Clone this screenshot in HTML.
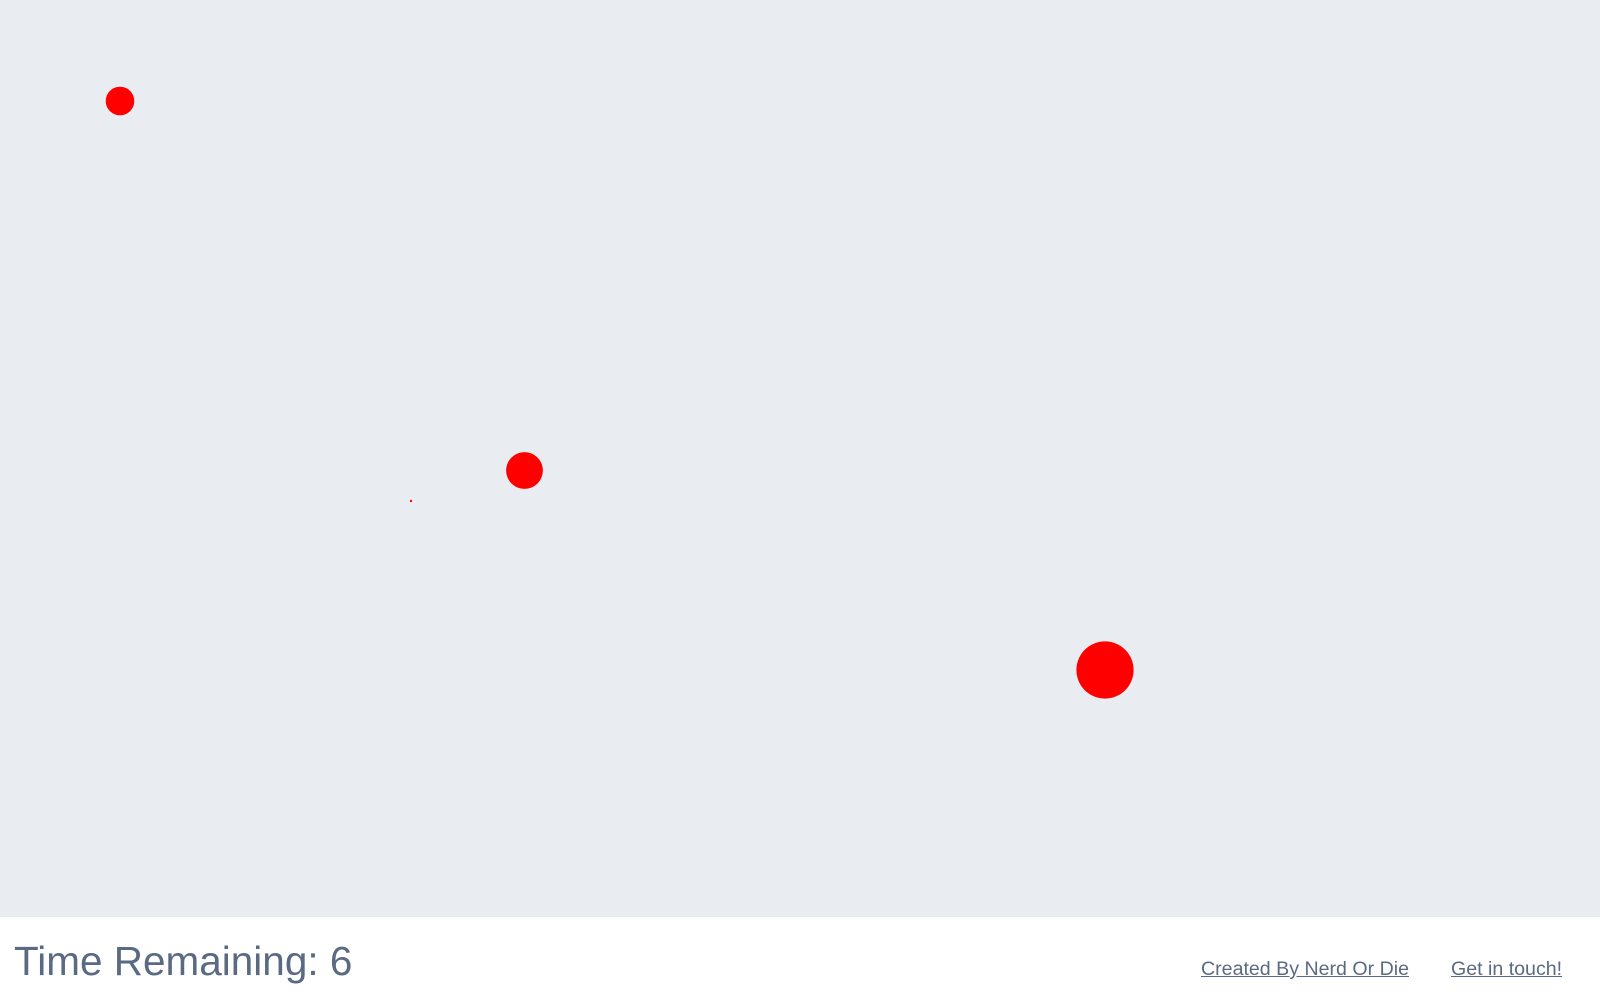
<!DOCTYPE html>
<html><head><meta charset="utf-8"><style>
body{margin:0;width:1600px;height:994px;background:#fff;overflow:hidden;font-family:"Liberation Sans",sans-serif;}
#field{position:absolute;left:0;top:0;width:1600px;height:917px;background:#e9edf2;}
#timer{position:absolute;left:14px;top:941px;font-size:40.5px;color:#5b6a83;line-height:1;white-space:nowrap;}
.lnk{position:absolute;top:960px;font-size:19.6px;color:#5b6a83;text-decoration:underline;line-height:1;white-space:nowrap;}
</style></head><body>
<svg id="field" width="1600" height="917"></svg>
<div id="timer">Time Remaining: 6</div>
<a class="lnk" style="left:1201px">Created By Nerd Or Die</a>
<a class="lnk" style="left:1451px">Get in touch!</a>
<script>
const xs=[120,524.5,1105,411];
const ys=[101,470.5,670,501];
const rs=[14.3,18.4,28.6,1.2];
const svg=document.getElementById('field');
for(let i=0;i<xs.length;i++){
 const c=document.createElementNS('http://www.w3.org/2000/svg','circle');
 c.setAttribute('cx',xs[i]);c.setAttribute('cy',ys[i]);c.setAttribute('r',rs[i]);
 c.setAttribute('fill','#ff0000');
 
 
 svg.appendChild(c);
}
</script>
</body></html>
